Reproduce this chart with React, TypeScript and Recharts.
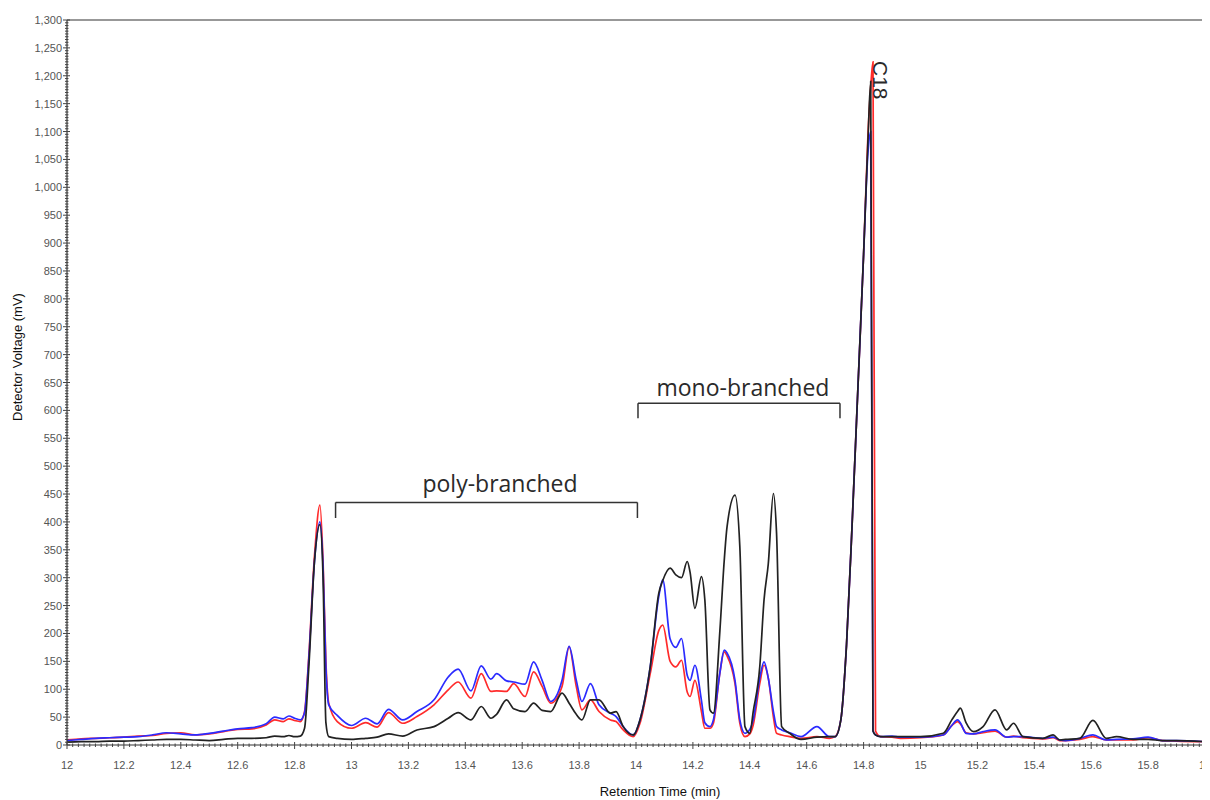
import React from 'react';
import { LineChart, Line, XAxis, YAxis, ReferenceLine, ReferenceDot } from 'recharts';

// Retention time (min)
const times = [
  12.00, 12.05, 12.10, 12.15, 12.20, 12.25, 12.30, 12.35, 12.40, 12.45,
  12.50, 12.55, 12.60, 12.65, 12.70, 12.73, 12.76, 12.78, 12.80, 12.82,
  12.835, 12.85, 12.87, 12.889, 12.90, 12.91, 12.92, 12.95, 13.00, 13.05,
  13.09, 13.13, 13.18, 13.23, 13.29, 13.34, 13.375, 13.42, 13.456, 13.49,
  13.51, 13.545, 13.57, 13.61, 13.64, 13.67, 13.70, 13.74, 13.765, 13.79,
  13.81, 13.84, 13.87, 13.91, 13.93, 13.955, 13.99, 14.014, 14.05, 14.08,
  14.094, 14.12, 14.14, 14.16, 14.18, 14.19, 14.207, 14.23, 14.242, 14.26,
  14.272, 14.295, 14.31, 14.32, 14.348, 14.365, 14.383, 14.40, 14.412, 14.435,
  14.45, 14.465, 14.483, 14.494, 14.512, 14.54, 14.58, 14.636, 14.68, 14.70,
  14.72, 14.74, 14.76, 14.78, 14.80, 14.815, 14.825, 14.833, 14.842, 14.86,
  14.90, 14.93, 15.00, 15.08, 15.11, 15.13, 15.14, 15.16, 15.186, 15.22,
  15.262, 15.303, 15.327, 15.36, 15.43, 15.466, 15.49, 15.51, 15.56, 15.606,
  15.653, 15.689, 15.747, 15.80, 15.85, 15.90, 16.00,
];

// Detector voltage (mV), black trace
const blackSignal = [
  5, 6, 6, 7, 7, 8, 9, 10, 10, 9,
  8, 10, 12, 12, 13, 16, 15, 17, 15, 16,
  30, 140, 330, 395, 300, 40, 15, 12, 10, 12,
  14, 20, 16, 27, 33, 48, 58, 45, 69, 48,
  55, 81, 65, 60, 75, 62, 60, 93, 75, 55,
  45, 81, 81, 57, 60, 33, 18, 45, 140, 272,
  295, 317, 305, 300, 329, 310, 245, 302, 260, 63,
  57, 206, 330, 391, 448, 355, 33, 21, 60, 140,
  260, 325, 451, 380, 33, 21, 10, 14, 15, 15,
  45, 180, 400, 640, 880, 1080, 1190, 25, 18, 15,
  15, 15, 15, 21, 45, 60, 66, 40, 24, 33,
  63, 27, 39, 15, 12, 18, 9, 10, 12, 44,
  12, 15, 10, 10, 8, 8, 6,
];

// Detector voltage (mV), red trace
const redSignal = [
  9, 11, 12, 13, 14, 16, 17, 21, 22, 18,
  20, 24, 28, 29, 36, 45, 42, 47, 44, 42,
  60, 160, 340, 430, 330, 150, 75, 42, 30, 40,
  32, 58, 39, 51, 72, 99, 113, 84, 128, 96,
  97, 96, 110, 87, 131, 105, 75, 105, 176, 105,
  63, 81, 60, 45, 42, 27, 15, 39, 128, 205,
  215, 150, 140, 152, 95, 87, 116, 60, 30, 30,
  39, 130, 167, 160, 110, 39, 15, 20, 36, 110,
  143, 120, 50, 21, 18, 15, 12, 15, 12, 15,
  45, 180, 400, 640, 880, 1090, 1180, 1225, 25, 15,
  14, 12, 13, 18, 35, 42, 38, 22, 20, 22,
  25, 14, 16, 13, 11, 13, 8, 8, 10, 15,
  9, 9, 9, 13, 8, 7, 6,
];

// Detector voltage (mV), blue trace
const blueSignal = [
  8, 10, 12, 13, 14, 15, 18, 22, 20, 18,
  21, 25, 29, 31, 38, 50, 47, 52, 48, 45,
  58, 155, 330, 400, 320, 140, 72, 53, 35, 48,
  38, 64, 45, 60, 81, 122, 136, 97, 142, 118,
  128, 115, 113, 109, 149, 116, 78, 116, 177, 116,
  78, 110, 72, 57, 51, 33, 18, 45, 140, 266,
  296, 190, 175, 191, 125, 116, 143, 80, 40, 33,
  45, 130, 170, 165, 116, 45, 21, 28, 45, 120,
  149, 120, 60, 33, 27, 22, 15, 33, 15, 15,
  45, 180, 400, 640, 880, 1060, 1100, 25, 18, 15,
  16, 14, 14, 18, 35, 45, 40, 21, 20, 24,
  27, 14, 15, 15, 12, 14, 9, 8, 12, 18,
  9, 10, 11, 14, 8, 8, 6,
];

const xMajorTicks = [12, 12.2, 12.4, 12.6, 12.8, 13, 13.2, 13.4, 13.6, 13.8, 14, 14.2, 14.4, 14.6, 14.8, 15, 15.2, 15.4, 15.6, 15.8, 16];
const yMajorTicks = [0, 50, 100, 150, 200, 250, 300, 350, 400, 450, 500, 550, 600, 650, 700, 750, 800, 850, 900, 950, 1000, 1050, 1100, 1150, 1200, 1250, 1300];

const data = times.map((t, i) => ({ t, black: blackSignal[i], red: redSignal[i], blue: blueSignal[i] }));

// minor tick positions (axis decoration)
const xTicks = Array.from({ length: 201 }, (_, i) => +(12 + i * 0.02).toFixed(2));
const yTicks = Array.from({ length: 261 }, (_, i) => i * 5);

const isMajorX = (v: number) => xMajorTicks.some((m) => Math.abs(m - v) < 1e-6);
const isMajorY = (v: number) => yMajorTicks.some((m) => Math.abs(m - v) < 1e-6);

const tickFont = '"Liberation Sans", Arial, sans-serif';

const XTick = (props: any) => {
  const { x, y, payload } = props;
  const v = payload.value;
  const major = isMajorX(v);
  return (
    <g>
      <line x1={x} x2={x} y1={major ? y - 3 : y - 1.5} y2={major ? y + 4 : y + 2} stroke="#444" strokeWidth={1} />
      {major && (
        <text x={x} y={y + 24} textAnchor="middle" fontSize={11} fill="#555" fontFamily={tickFont}>
          {String(+v.toFixed(1))}
        </text>
      )}
    </g>
  );
};

const YTick = (props: any) => {
  const { x, y, payload } = props;
  const v = payload.value;
  const major = isMajorY(v);
  return (
    <g>
      <line x1={major ? x - 4 : x - 2} x2={major ? x + 3 : x + 1.5} y1={y} y2={y} stroke="#444" strokeWidth={1} />
      {major && (
        <text x={x - 5} y={y + 4} textAnchor="end" fontSize={11} fill="#555" fontFamily={tickFont}>
          {v.toLocaleString('en-US')}
        </text>
      )}
    </g>
  );
};

const makeLabel = (text: string, size: number, family: string, rotate: number, anchorBaseline: string) => (props: any) => {
  const vb = props.viewBox || {};
  const cx = vb.x + (vb.width || 0) / 2;
  const cy = vb.y + (vb.height || 0) / 2;
  return (
    <text
      x={cx}
      y={cy}
      textAnchor="middle"
      dominantBaseline={anchorBaseline as any}
      fontSize={size}
      fontFamily={family}
      fill="#2a2a2a"
      transform={rotate ? `rotate(${rotate}, ${cx}, ${cy})` : undefined}
    >
      {text}
    </text>
  );
};

const annoFont = '"Open Sans", "Noto Sans", sans-serif';
const bracketColor = '#333';

export default function App() {
  return (
    <div style={{ position: 'relative', width: 1202, height: 792 }}>
      <LineChart width={1202} height={792} data={data} margin={{ top: 12, right: 5, left: 0, bottom: 0 }}>
        <XAxis
          dataKey="t"
          type="number"
          domain={[12, 16]}
          ticks={xTicks}
          interval={0}
          height={55}
          tickSize={0}
          tickMargin={0}
          tick={<XTick />}
          axisLine={{ stroke: '#333', strokeWidth: 1.2 }}
          allowDataOverflow
        />
        <YAxis
          type="number"
          domain={[0, 1300]}
          ticks={yTicks}
          interval={0}
          width={59}
          tickSize={0}
          tickMargin={0}
          tick={<YTick />}
          axisLine={{ stroke: '#333', strokeWidth: 1.2 }}
          allowDataOverflow
        />
        <ReferenceLine y={1300} stroke="#333" strokeWidth={1.2} />
        <ReferenceLine x={16} stroke="#333" strokeWidth={1.2} />

        <Line type="monotone" dataKey="red" stroke="#ff2b2b" strokeWidth={1.7} dot={false} activeDot={false} isAnimationActive={false} />
        <Line type="monotone" dataKey="blue" stroke="#2b2bff" strokeWidth={1.7} dot={false} activeDot={false} isAnimationActive={false} />
        <Line type="monotone" dataKey="black" stroke="#222222" strokeWidth={1.7} dot={false} activeDot={false} isAnimationActive={false} />

        {/* poly-branched bracket */}
        <ReferenceLine segment={[{ x: 12.944, y: 435 }, { x: 14.005, y: 435 }]} stroke={bracketColor} strokeWidth={1.5} />
        <ReferenceLine segment={[{ x: 12.944, y: 435 }, { x: 12.944, y: 407 }]} stroke={bracketColor} strokeWidth={1.5} />
        <ReferenceLine segment={[{ x: 14.005, y: 435 }, { x: 14.005, y: 407 }]} stroke={bracketColor} strokeWidth={1.5} />
        <ReferenceDot x={13.522} y={453} r={1} fill="none" stroke="none" label={makeLabel('poly-branched', 23, annoFont, 0, 'alphabetic')} />

        {/* mono-branched bracket */}
        <ReferenceLine segment={[{ x: 14.007, y: 613 }, { x: 14.717, y: 613 }]} stroke={bracketColor} strokeWidth={1.5} />
        <ReferenceLine segment={[{ x: 14.007, y: 613 }, { x: 14.007, y: 586 }]} stroke={bracketColor} strokeWidth={1.5} />
        <ReferenceLine segment={[{ x: 14.717, y: 613 }, { x: 14.717, y: 586 }]} stroke={bracketColor} strokeWidth={1.5} />
        <ReferenceDot x={14.376} y={625} r={1} fill="none" stroke="none" label={makeLabel('mono-branched', 23, annoFont, 0, 'alphabetic')} />

        {/* C18 peak label */}
        <ReferenceDot x={14.861} y={1192} r={1} fill="none" stroke="none" label={makeLabel('C18', 21, tickFont, 90, 'central')} />
      </LineChart>

      <div
        style={{
          position: 'absolute',
          left: 10 - 100,
          top: 349 - 8,
          width: 200,
          height: 16,
          lineHeight: '16px',
          textAlign: 'center',
          transform: 'rotate(-90deg)',
          fontFamily: tickFont,
          fontSize: 13,
          color: '#111',
        }}
      >
        Detector Voltage (mV)
      </div>
      <div
        style={{
          position: 'absolute',
          left: 652 - 100,
          top: 776,
          width: 200,
          height: 16,
          lineHeight: '16px',
          textAlign: 'center',
          fontFamily: tickFont,
          fontSize: 13,
          color: '#111',
        }}
      >
        Retention Time (min)
      </div>
    </div>
  );
}
